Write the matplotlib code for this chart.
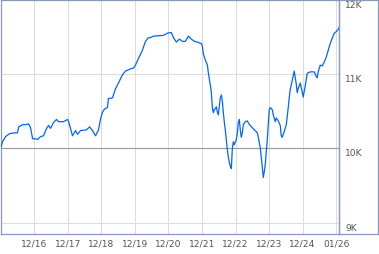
import numpy as np
import matplotlib
matplotlib.use('Agg')
import matplotlib.pyplot as plt

# hours since 12/15 00:00 and index level
hours = [0, 1.4, 3.6, 6.4, 10.0, 12.1, 12.9, 15.7, 17.9, 20.0, 21.4, 22.9, 25.0,
         26.4, 28.6, 30.7, 32.9, 34.3, 35.7, 37.9, 40.0, 41.4, 45.0, 47.9, 48.6,
         50.0, 51.4, 53.6, 55.0, 57.1, 61.4, 63.6, 65.7, 67.9, 70.0, 71.4, 72.9,
         74.3, 76.4, 77.1, 80.0, 82.1, 84.3, 87.1, 89.3, 92.9, 95.0, 96.4, 98.6,
         101.4, 103.6, 105.7, 107.1, 109.3, 116.4, 119.3, 122.1, 123.6, 125.7,
         127.9, 130.0, 132.1, 134.3, 136.4, 138.6, 140.7, 143.6, 144.3, 145.0,
         146.4, 147.9, 148.6, 150.0, 150.7, 151.4, 152.1, 152.9, 154.3, 155.0,
         155.7, 156.4, 157.1, 157.9, 158.6, 159.3, 160.0, 160.7, 161.4, 162.1,
         162.9, 163.6, 164.3, 165.0, 165.7, 166.4, 167.1, 167.9, 168.6, 169.3,
         170.0, 170.7, 171.4, 172.1, 172.9, 173.6, 175.0, 176.4, 177.9, 180.0,
         182.1, 183.6, 184.3, 185.7, 186.4, 187.1, 187.9, 188.6, 189.3, 190.0,
         190.7, 191.4, 192.1, 192.9, 194.3, 195.0, 196.4, 197.1, 198.6, 200.0,
         200.7, 201.4, 202.9, 204.3, 205.0, 205.7, 206.4, 207.1, 208.6, 210.0,
         211.4, 212.1, 212.9, 214.3, 215.7, 216.4, 217.9, 219.3, 221.4, 224.3,
         225.7, 226.4, 227.1, 228.6, 230.0, 231.4, 232.9, 234.3, 235.7, 237.1,
         238.6, 240.0, 241.4, 242.1]
level = [10010, 10090, 10160, 10200, 10210, 10210, 10290, 10320, 10320, 10330,
         10280, 10130, 10130, 10120, 10160, 10170, 10270, 10310, 10270, 10350,
         10390, 10360, 10360, 10390, 10360, 10270, 10170, 10240, 10190, 10240,
         10250, 10290, 10240, 10170, 10250, 10390, 10490, 10530, 10550, 10670,
         10680, 10800, 10880, 10990, 11040, 11070, 11080, 11120, 11210, 11320,
         11440, 11490, 11490, 11510, 11520, 11550, 11560, 11490, 11430, 11470,
         11440, 11440, 11510, 11470, 11440, 11430, 11410, 11370, 11270, 11190,
         11120, 11010, 10850, 10750, 10560, 10480, 10520, 10560, 10490, 10450,
         10560, 10680, 10720, 10630, 10480, 10350, 10250, 10120, 9990, 9880,
         9810, 9760, 9730, 9990, 10090, 10050, 10090, 10120, 10210, 10350,
         10390, 10250, 10150, 10210, 10320, 10360, 10370, 10320, 10280, 10240,
         10210, 10150, 10010, 9880, 9750, 9610, 9690, 9790, 9960, 10120,
         10320, 10520, 10550, 10520, 10450, 10360, 10410, 10370, 10310, 10170,
         10150, 10230, 10320, 10430, 10550, 10680, 10790, 10920, 11040, 10870,
         10750, 10810, 10880, 10760, 10690, 10850, 11010, 11030, 11030, 10970,
         10950, 11030, 11120, 11110, 11160, 11230, 11320, 11410, 11480, 11550,
         11570, 11600, 11630]

day_ticks = [24, 48, 72, 96, 120, 144, 168, 192, 216, 240]
day_labels = ['12/16', '12/17', '12/18', '12/19', '12/20', '12/21', '12/22',
              '12/23', '12/24', '01/26']
level_ticks = [9000, 10000, 11000, 12000]
level_labels = ['9K', '10K', '11K', '12K']
prev_close = 10000

W, H = 379, 255
frame = '#8899BB'
txt = '#555555'

fig = plt.figure(figsize=(W / 100, H / 100), dpi=100)
ax = fig.add_axes([0.6 / W, 20 / H, 338.4 / W, 234.3 / H])
axlab = fig.add_axes([339 / W, 20 / H, 39.3 / W, 234.3 / H])

ax.plot(hours, level, color='#0066FF', lw=0.9, zorder=3)
ax.set_xlim(0, 242)
ax.set_ylim(8850, 12000)

ax.set_xticks(day_ticks)
ax.set_xticklabels(day_labels)
ax.set_yticks(level_ticks)
ax.set_yticklabels(level_labels)
ax.yaxis.tick_right()
ax.tick_params(axis='x', length=0, pad=3.5, labelsize=6.6, labelcolor=txt)
ax.tick_params(axis='y', length=0, pad=4.5, labelsize=6.6, labelcolor=txt)
for lbl in ax.get_yticklabels():
    lbl.set_va('top')
ax.grid(True, color='#DDDDDD', lw=0.8, zorder=1)
ax.axhline(prev_close, color='#999999', lw=0.8, zorder=2)
for s in ax.spines.values():
    s.set_color(frame)
    s.set_linewidth(0.9)

axlab.set_xticks([])
axlab.set_yticks([])
axlab.patch.set_alpha(0)
for s in axlab.spines.values():
    s.set_color(frame)
    s.set_linewidth(0.9)

fig.savefig('out.png', dpi=100)
